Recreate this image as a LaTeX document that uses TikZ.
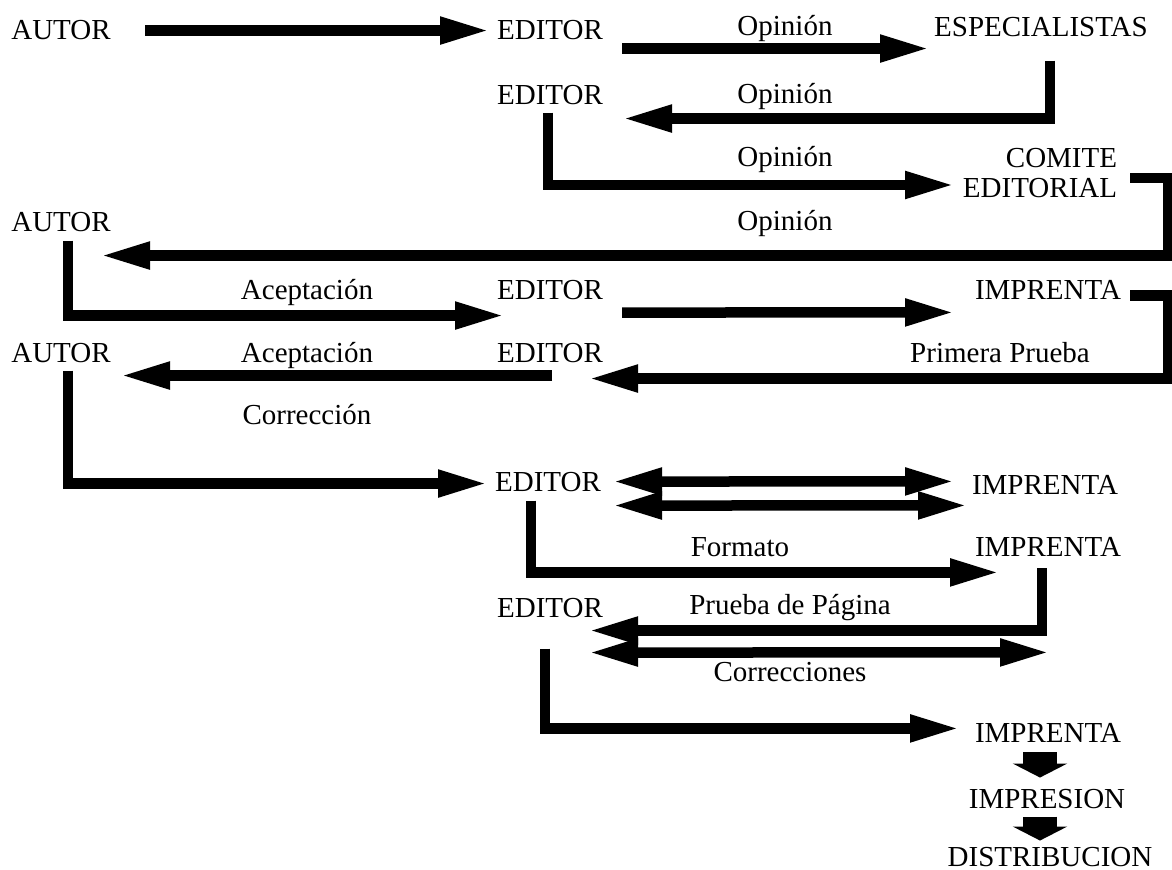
\documentclass[tikz,border=0pt]{standalone}
\usepackage{fontspec}
\setmainfont{Liberation Serif}
\usepackage{tikz}
\usetikzlibrary{arrows.meta,calc}

\tikzset{
  txt/.style={inner sep=0pt,anchor=base,font=\fontsize{14.5}{15}\selectfont},
  flow/.style={line width=5.25pt,-{Triangle[length=25pt,width=12.5pt]}},
  twoway/.style={line width=5.25pt,{Triangle[length=25pt,width=12.5pt]}-{Triangle[length=25pt,width=12.5pt]}},
  bigdown/.style={line width=17pt,-{Triangle[length=7pt,width=27pt]}}
}

\begin{document}
\begin{tikzpicture}[x=0.5pt,y=-0.5pt]
\useasboundingbox (0,0) rectangle (1172,870);
\node[txt] (autorA) at (61,40) {AUTOR};
\node[txt] (editorA) at (550,40) {EDITOR};
\node[txt] (lblOp1) at (785,36) {Opinión};
\node[txt] (espec) at (1041,37) {ESPECIALISTAS};
\node[txt] (editorB) at (550,105) {EDITOR};
\node[txt] (lblOp2) at (785,104) {Opinión};
\node[txt] (lblOp3) at (785,167) {Opinión};
\node[txt,anchor=center,align=right] (comite) at (1040,173) {COMITE\\EDITORIAL};
\node[txt] (autorB) at (61,232) {AUTOR};
\node[txt] (lblOp4) at (785,231) {Opinión};
\node[txt] (lblAc1) at (307,300) {Aceptación};
\node[txt] (editorC) at (550,300) {EDITOR};
\node[txt] (imprentaA) at (1048,300) {IMPRENTA};
\node[txt] (autorC) at (61,363) {AUTOR};
\node[txt] (lblAc2) at (307,363) {Aceptación};
\node[txt] (editorD) at (550,363) {EDITOR};
\node[txt] (lblPP) at (1000,363) {Primera Prueba};
\node[txt] (lblCor) at (307,425) {Corrección};
\node[txt] (editorE) at (548,492) {EDITOR};
\node[txt] (imprentaB) at (1045,495) {IMPRENTA};
\node[txt] (lblFor) at (740,557) {Formato};
\node[txt] (imprentaC) at (1048,557) {IMPRENTA};
\node[txt] (editorF) at (550,618) {EDITOR};
\node[txt] (lblPdP) at (790,615) {Prueba de Página};
\node[txt] (lblCors) at (790,682) {Correcciones};
\node[txt] (imprentaD) at (1048,742) {IMPRENTA};
\node[txt] (impresion) at (1047,808) {IMPRESION};
\node[txt] (distrib) at (1050,866) {DISTRIBUCION};

\draw[flow] ($(autorA)+(84,0)$) -- ($(editorA)+(-60,0)$);
\draw[flow] ($(editorA)+(72,18)$) -- ($(espec)+(-111,21)$);
\draw[flow] ($(espec)+(9,33)$) |- ($(editorB)+(72,23)$);
\draw[flow] ($(editorB)+(-2,17)$) |- ($(comite)+(-85,12)$);
\draw[flow] ($(comite)+(90,5)$) -- ++(38,0) |- ($(autorB)+(39,33)$);
\draw[flow] ($(autorB)+(7,18)$) |- ($(editorC)+(-45,25)$);
\draw[flow] ($(editorC)+(72,22)$) -- ($(imprentaA)+(-93,22)$);
\draw[flow] ($(imprentaA)+(82,5)$) -- ++(38,0) |- ($(editorD)+(38,25)$);
\draw[flow] ($(editorD)+(2,22)$) -- ($(autorC)+(59,22)$);
\draw[flow] ($(autorC)+(7,17)$) |- ($(editorE)+(-60,1)$);
\draw[twoway] ($(editorE)+(64,-1)$) -- ($(imprentaB)+(-90,-4)$);
\draw[twoway] ($(editorE)+(64,23)$) -- ($(imprentaB)+(-77,20)$);
\draw[flow] ($(editorE)+(-17,18)$) |- ($(imprentaC)+(-48,25)$);
\draw[flow] ($(imprentaC)+(-6,21)$) |- ($(editorF)+(38,22)$);
\draw[twoway] ($(editorF)+(38,44)$) -- ($(imprentaC)+(2,105)$);
\draw[flow] ($(editorF)+(-5,40)$) |- ($(imprentaD)+(-88,-4)$);
\draw[bigdown] ($(imprentaD)+(-8,20)$) -- ($(impresion)+(-7,-21)$);
\draw[bigdown] ($(impresion)+(-7,18)$) -- ($(distrib)+(-10,-16)$);
\end{tikzpicture}
\end{document}
